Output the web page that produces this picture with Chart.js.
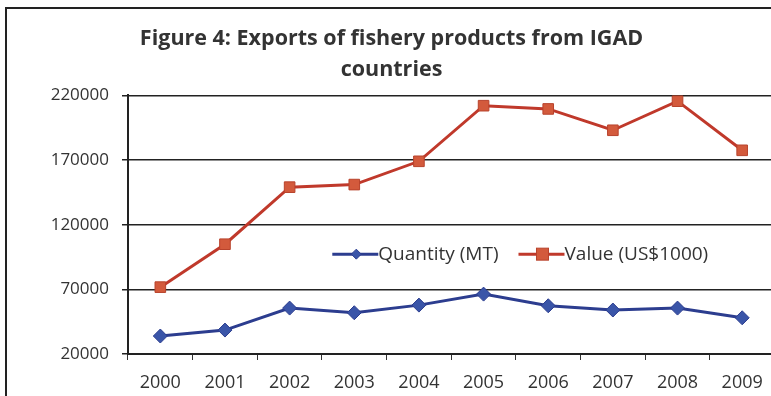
<!DOCTYPE html>
<html lang="en">
<head>
<meta charset="UTF-8">
<title>Figure 4: Exports of fishery products from IGAD countries</title>
<script src="https://cdn.jsdelivr.net/npm/chart.js"></script>
<style>
html, body {
	margin: 0;
	padding: 0;
	background: #fff;
	overflow: hidden;
}
.frame {
	position: absolute;
	left: 5px;
	top: 7px;
	width: 780px;
	height: 400px;
	border-left: 2px solid #222;
	border-top: 2px solid #222;
}
.displayChart {
	position: absolute;
	left: 0;
	top: 0;
	width: 783px;
	height: 396px;
}
</style>
</head>
<body>
	<div class="frame"></div>
	<div class="displayChart">
		<canvas id="fishChart"></canvas>
	</div>
	<script>
	const years = ['2000', '2001', '2002', '2003', '2004', '2005', '2006', '2007', '2008', '2009'];
	const quantity = [33900, 38500, 55500, 51900, 57800, 66300, 57300, 54000, 55500, 48000];
	const value = [71700, 104900, 149000, 151000, 169000, 212000, 209500, 193000, 215500, 177500];
	const yTicks = [20000, 70000, 120000, 170000, 220000];

	// legend drawn inside the plot, like the original
	const innerLegend = {
		id: 'innerLegend',
		afterDatasetsDraw(chart) {
			const ctx = chart.ctx;
			const area = chart.chartArea;
			const y = area.top + (area.bottom - area.top) * 0.614;
			let x = area.left + (area.right - area.left) * 0.316;
			ctx.save();
			ctx.font = '19px "Open Sans"';
			ctx.textBaseline = 'middle';
			chart.data.datasets.forEach(ds => {
				ctx.strokeStyle = ds.borderColor;
				ctx.lineWidth = 3;
				ctx.beginPath();
				ctx.moveTo(x, y);
				ctx.lineTo(x + 46, y);
				ctx.stroke();
				ctx.fillStyle = ds.pointBackgroundColor;
				ctx.strokeStyle = ds.pointBorderColor;
				ctx.lineWidth = 1;
				const cx = x + 24;
				if (ds.pointStyle === 'rectRot') {
					ctx.beginPath();
					ctx.moveTo(cx, y - 5);
					ctx.lineTo(cx + 5, y);
					ctx.lineTo(cx, y + 5);
					ctx.lineTo(cx - 5, y);
					ctx.closePath();
					ctx.fill();
					ctx.stroke();
				} else {
					ctx.fillRect(cx - 6, y - 6, 12, 12);
					ctx.strokeRect(cx - 6, y - 6, 12, 12);
				}
				ctx.fillStyle = '#333';
				ctx.fillText(ds.label, x + 46, y);
				x += 46 + ctx.measureText(ds.label).width + 20;
			});
			ctx.restore();
		}
	};

	const ctx = document.getElementById('fishChart').getContext('2d');
	const myChart = new Chart(ctx, {
		type: 'line',
		data: {
			labels: years,
			datasets: [
				{
					label: 'Quantity (MT)',
					data: quantity,
					borderColor: '#2c3d8f',
					borderWidth: 3,
					pointStyle: 'rectRot',
					pointRadius: 7,
					pointBackgroundColor: '#3a55a8',
					pointBorderColor: '#2c3d8f',
					pointBorderWidth: 1
				},
				{
					label: 'Value (US$1000)',
					data: value,
					borderColor: '#c0392b',
					borderWidth: 3,
					pointStyle: 'rect',
					pointRadius: 7.5,
					pointBackgroundColor: '#d35a3c',
					pointBorderColor: '#b8432c',
					pointBorderWidth: 1
				}
			]
		},
		options: {
			responsive: true,
			maintainAspectRatio: false,
			animation: false,
			layout: {
				padding: { left: 0, right: 0, top: 0, bottom: 0 }
			},
			plugins: {
				legend: { display: false },
				tooltip: { enabled: false },
				title: {
					display: true,
					text: ['Figure 4: Exports of fishery products from IGAD', 'countries'],
					color: '#333',
					font: { family: '"Open Sans"', size: 21.5, weight: 'bold', lineHeight: 1.45 },
					padding: { top: 23, bottom: 10 }
				}
			},
			scales: {
				x: {
					offset: true,
					afterFit: axis => { axis.height = 42; },
					grid: {
						offset: true,
						drawOnChartArea: false,
						drawTicks: true,
						tickLength: 6,
						color: '#333'
					},
					border: { display: true, color: '#222', width: 2 },
					ticks: {
						color: '#333',
						font: { family: '"Open Sans"', size: 18 },
						padding: 12
					}
				},
				y: {
					min: 20000,
					max: 220000,
					afterFit: axis => { axis.width = 128; },
					afterBuildTicks: axis => {
						axis.ticks = yTicks.map(v => ({ value: v }));
					},
					grid: {
						color: '#222',
						lineWidth: 1.5,
						tickLength: 6
					},
					border: { display: true, color: '#222', width: 2 },
					ticks: {
						color: '#333',
						font: { family: '"Open Sans"', size: 17 },
						padding: 13,
						callback: v => String(v)
					}
				}
			}
		},
		plugins: [innerLegend]
	});
	</script>
</body>
</html>
